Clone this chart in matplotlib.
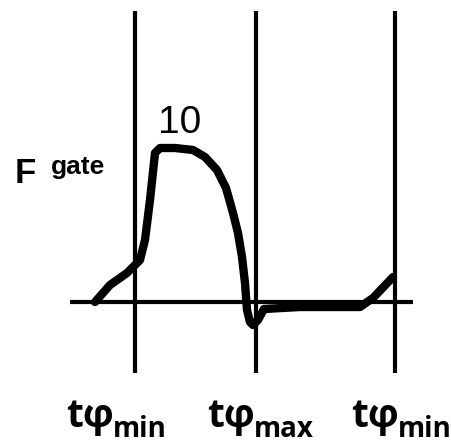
import matplotlib.pyplot as plt

# gate curve, time axis and value axis in picture units (baseline = 0)
t_curve = [95, 110, 127, 140, 145, 150, 155, 160, 175, 193, 205, 217, 226,
           233, 238, 242, 245, 247, 250, 253, 258, 264, 300, 340, 360, 373, 393]
f_curve = [0, 17, 29, 42, 62, 102, 149, 154, 154, 152, 145, 132, 114,
           89, 69, 45, 19, -8, -20, -23, -18, -7, -5, -5, -5, 4, 25]

# phase markers
t_marks = [135, 256, 395]
mark_top = 291
mark_bottom = -71
base_from, base_to = 70, 413

# labels
main_label = "tφ"
sub_labels = ["min", "max", "min"]
label_join = [114, 255, 399]
peak_label = "10"

fig = plt.figure(figsize=(4.52, 4.45), dpi=100)
ax = fig.add_axes([0, 0, 1, 1])
ax.set_xlim(0, 452)
ax.set_ylim(-143, 302)
ax.axis("off")

for tm in t_marks:
    ax.plot([tm, tm], [mark_bottom, mark_top], color="black", lw=3,
            solid_capstyle="butt")
ax.plot([base_from, base_to], [0, 0], color="black", lw=3, solid_capstyle="butt")

ax.plot(t_curve, f_curve, color="black", lw=6, solid_joinstyle="round",
        solid_capstyle="round")

# axis name
ax.text(15, 119, "F", fontsize=25, fontweight="bold", family="Liberation Sans",
        ha="left", va="baseline")
ax.text(51, 128, "gate", fontsize=19, fontweight="bold", family="Liberation Sans",
        ha="left", va="baseline")
ax.text(180, 169, peak_label, fontsize=28, family="Liberation Sans",
        ha="center", va="baseline")

for xj, sub in zip(label_join, sub_labels):
    ax.text(xj, -125, main_label, fontsize=28, fontweight="bold",
            family="Open Sans", ha="right", va="baseline")
    ax.text(xj - 1, -135, sub, fontsize=20, fontweight="bold",
            family="Open Sans", ha="left", va="baseline")

fig.savefig("out.png", dpi=100)
